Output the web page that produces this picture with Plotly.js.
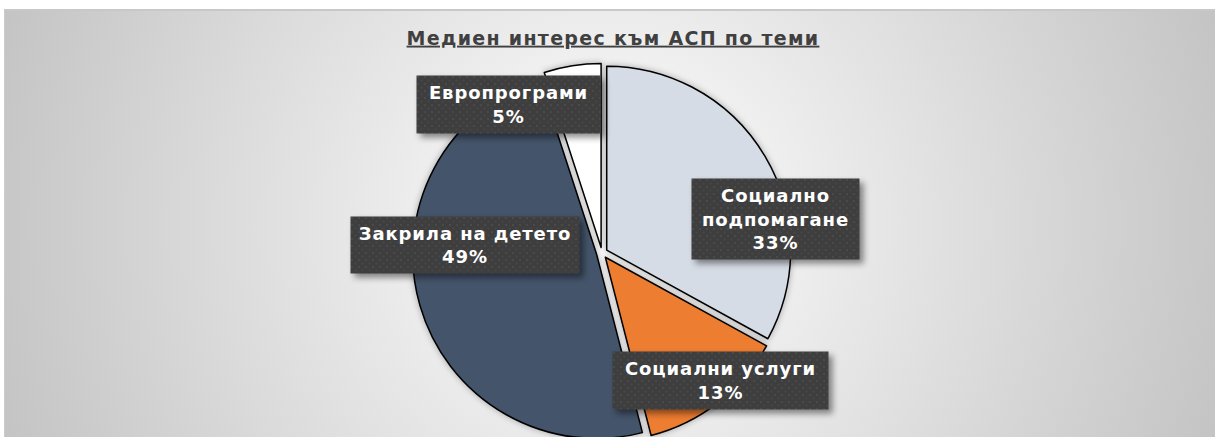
<!DOCTYPE html>
<html>
<head>
<meta charset="utf-8">
<script src="https://cdn.plot.ly/plotly-3.0.1.min.js"></script>
<style>
  html, body { margin:0; padding:0; width:1215px; height:437px; overflow:hidden; background:#ffffff; }
  #frame { position:absolute; left:4px; top:9px; width:1211px; height:428px;
    background: radial-gradient(circle farthest-corner at 50% 50%, #ffffff 0%, #c4c4c4 100%);
    border-top:2px solid #c8c8c8; border-left:1px solid #cccccc; box-sizing:border-box; }
  #chart { position:absolute; left:0; top:0; width:1215px; height:480px; }
  #chart g.slice path.surface { filter: drop-shadow(0px 0px 3px rgba(0,0,0,0.3)); }
  #chart g.annotation rect.bg { filter: drop-shadow(4px 4px 3px rgba(0,0,0,0.45)); fill: url(#dots) !important; }
  #chart g.annotation text { letter-spacing: 0.9px; }
  #chart text.gtitle { letter-spacing: 1.3px; }
</style>
</head>
<body>
<svg width="0" height="0" style="position:absolute">
  <defs>
    <pattern id="dots" width="7" height="7" patternUnits="userSpaceOnUse">
      <rect width="7" height="7" fill="#3e3e3e"></rect>
      <circle cx="2" cy="2" r="1.1" fill="#4c4c4c"></circle>
      <circle cx="5.5" cy="5.5" r="1.1" fill="#474747"></circle>
    </pattern>
  </defs>
</svg>
<div id="frame"></div>
<div id="chart"></div>
<script>
// Data
const categories = ['Социално подпомагане', 'Социални услуги', 'Закрила на детето', 'Европрограми'];
const values = [33, 13, 49, 5];
const labelText = ['Социално<br>подпомагане', 'Социални услуги', 'Закрила на детето', 'Европрограми'];
const titleText = 'Медиен интерес към АСП по теми';

// Styles
const colors = ['#d6dce5', '#ed7d31', '#44546a', '#ffffff'];
const W = 1215, H = 480;
// label box centers (px) and sizes
const boxPos = [[775, 219], [720, 380], [465, 245], [508, 104]];
const boxSize = [[167, 80], [215, 57], [228, 56], [183, 57]];

const total = values.reduce((a, b) => a + b, 0);
const annotations = categories.map((c, i) => ({
  xref: 'paper', yref: 'paper',
  x: boxPos[i][0] / W, y: 1 - boxPos[i][1] / H,
  xanchor: 'center', yanchor: 'middle',
  text: '<b>' + labelText[i] + '<br>' + Math.round(values[i] / total * 100) + '%</b>',
  showarrow: false,
  font: { family: 'DejaVu Sans, Verdana, sans-serif', size: 18, color: '#ffffff' },
  bgcolor: '#404040',
  borderpad: 0,
  width: boxSize[i][0], height: boxSize[i][1],
  align: 'center', valign: 'middle'
}));

const trace = {
  type: 'pie',
  labels: categories,
  values: values,
  sort: false,
  direction: 'clockwise',
  rotation: 0,
  pull: [0.03, 0.03, 0.03, 0.03],
  marker: { colors: colors, line: { color: '#000000', width: 1.5 } },
  textinfo: 'none',
  hoverinfo: 'label+percent',
  showlegend: false,
  domain: { x: [0.3395, 0.6514], y: [0.0783, 0.8679] }
};

const layout = {
  width: W, height: H,
  margin: { l: 0, r: 0, t: 0, b: 0 },
  paper_bgcolor: 'rgba(0,0,0,0)',
  plot_bgcolor: 'rgba(0,0,0,0)',
  showlegend: false,
  title: {
    text: '<b><span style="text-decoration:underline">' + titleText + '</span></b>',
    font: { family: 'DejaVu Sans, Verdana, sans-serif', size: 19, color: '#404040' },
    x: 613 / W, xanchor: 'center',
    y: 1 - 38 / H, yanchor: 'middle', xref: 'paper', yref: 'paper'
  },
  annotations: annotations
};

Plotly.newPlot('chart', [trace], layout, { displayModeBar: false, staticPlot: true });
</script>
</body>
</html>
